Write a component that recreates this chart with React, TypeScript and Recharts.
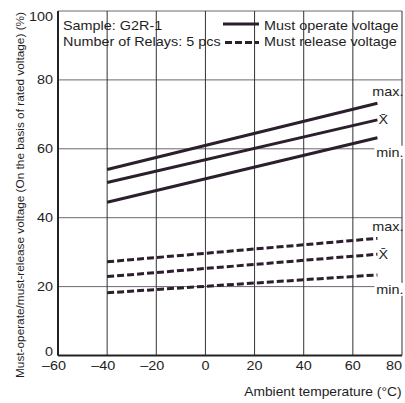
import React from 'react';
import { LineChart, Line, XAxis, YAxis, CartesianGrid, Customized } from 'recharts';

const temps = [-40, 70];
const operateMax = [54.0, 73.2];
const operateMean = [50.2, 68.4];
const operateMin = [44.5, 63.2];
const releaseMax = [27.2, 34.0];
const releaseMean = [22.9, 29.4];
const releaseMin = [18.2, 23.4];
const xTicks = [-60, -40, -20, 0, 20, 40, 60, 80];
const yTicks = [0, 20, 40, 60, 80, 100];

const data = temps.map((t, i) => ({
  t,
  opMax: operateMax[i],
  opMean: operateMean[i],
  opMin: operateMin[i],
  reMax: releaseMax[i],
  reMean: releaseMean[i],
  reMin: releaseMin[i],
}));

const FONT = 'Liberation Sans, Arial, Helvetica, sans-serif';
const INK = '#2a1f2b';
const TXT = '#1e1e1e';
const FS = 12;
const SX = 1.2;

const T = ({ x, y, anchor = 'start', sx = SX, size = FS, children }: any) => (
  <text
    transform={`translate(${x} ${y}) scale(${sx} 1)`}
    x={0}
    y={0}
    textAnchor={anchor}
    fontSize={size}
    fontFamily={FONT}
    fill={TXT}
  >
    {children}
  </text>
);

const makeLabel = (kind: 'max' | 'mean' | 'min') => (props: any) => {
  const { x, y, index } = props;
  if (index !== temps.length - 1) return null;
  if (kind === 'max') return <T x={x + 26} y={y - 7} anchor="end">max.</T>;
  if (kind === 'mean') return <T x={x + 1} y={y + 4.5}>{'X\u0304'}</T>;
  return (
    <g>
      <rect x={x - 3} y={y + 8} width={29} height={13} fill="#fff" />
      <T x={x + 26} y={y + 19} anchor="end">min.</T>
    </g>
  );
};

const XTick = (props: any) => {
  const { x, y, payload, index } = props;
  const v: number = payload.value;
  const base = y + 14.5;
  if (index === xTicks.length - 1) return <T x={x} y={base} anchor="end">{String(v)}</T>;
  const digits = String(Math.abs(v));
  const half = (digits.length * 0.556 * FS * SX) / 2;
  return (
    <T x={x + half} y={base} anchor="end">
      {(v < 0 ? '\u2013' : '') + digits}
    </T>
  );
};

const YTick = (props: any) => {
  const { x, y, payload, index } = props;
  let base = y + 4.3;
  if (index === yTicks.length - 1) base = y + 10.3;
  if (index === 0) base = y;
  return <T x={x - 5} y={base} anchor="end">{String(payload.value)}</T>;
};

const Overlay = () => (
  <g>
    <T x={63} y={29.8}>Sample: G2R-1</T>
    <T x={63} y={45.8}>Number of Relays: 5 pcs</T>
    <line x1={223} y1={24} x2={259} y2={24} stroke={INK} strokeWidth={3} />
    <line x1={225} y1={42.5} x2={259} y2={42.5} stroke={INK} strokeWidth={3} strokeDasharray="7 3" />
    <T x={264} y={29.5}>Must operate voltage</T>
    <T x={264} y={45.5}>Must release voltage</T>
    <T x={401.5} y={396} anchor="end" sx={1.15}>Ambient temperature (°C)</T>
    <text
      x={23.5}
      y={195}
      transform="rotate(-90 23.5 195)"
      textAnchor="middle"
      fontSize={10.3}
      fontFamily={FONT}
      fill={TXT}
      textLength={366}
      lengthAdjust="spacingAndGlyphs"
    >
      Must-operate/must-release voltage (On the basis of rated voltage) (%)
    </text>
  </g>
);

export default function App() {
  return (
    <div style={{ position: 'absolute', left: 0, top: 0, width: 405, height: 403, background: '#fff' }}>
      <LineChart width={405} height={403} data={data} margin={{ top: 11, right: 3, bottom: 17.5, left: 18 }}>
        <CartesianGrid vertical={false} stroke="#6f6672" strokeWidth={1} />
        <CartesianGrid horizontal={false} stroke="#333" strokeWidth={1} />
        <XAxis
          dataKey="t"
          type="number"
          domain={[-60, 80]}
          ticks={xTicks}
          tickLine={false}
          tickSize={0}
          tickMargin={0}
          height={30}
          axisLine={{ stroke: '#222', strokeWidth: 2 }}
          tick={XTick}
          interval={0}
        />
        <YAxis
          type="number"
          domain={[0, 100]}
          ticks={yTicks}
          tickLine={false}
          tickSize={0}
          tickMargin={0}
          width={40}
          axisLine={{ stroke: '#222', strokeWidth: 2 }}
          tick={YTick}
          interval={0}
        />
        <Line dataKey="opMax" stroke={INK} strokeWidth={3} dot={false} isAnimationActive={false} label={makeLabel('max')} />
        <Line dataKey="opMean" stroke={INK} strokeWidth={3} dot={false} isAnimationActive={false} label={makeLabel('mean')} />
        <Line dataKey="opMin" stroke={INK} strokeWidth={3} dot={false} isAnimationActive={false} label={makeLabel('min')} />
        <Line dataKey="reMax" stroke={INK} strokeWidth={3} strokeDasharray="7 3" dot={false} isAnimationActive={false} label={makeLabel('max')} />
        <Line dataKey="reMean" stroke={INK} strokeWidth={3} strokeDasharray="7 3" dot={false} isAnimationActive={false} label={makeLabel('mean')} />
        <Line dataKey="reMin" stroke={INK} strokeWidth={3} strokeDasharray="7 3" dot={false} isAnimationActive={false} label={makeLabel('min')} />
        <Customized component={Overlay} />
      </LineChart>
    </div>
  );
}
